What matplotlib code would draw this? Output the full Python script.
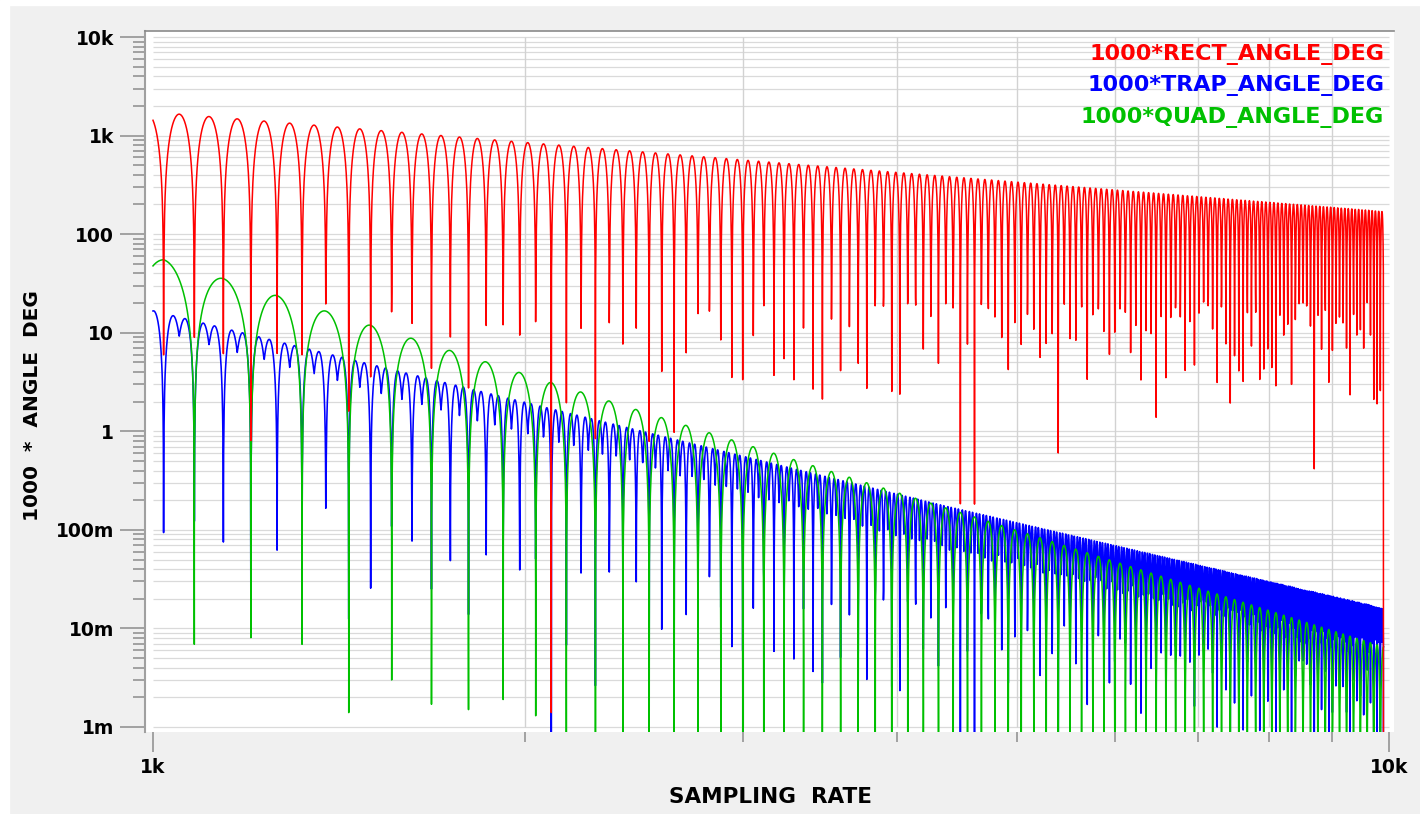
import numpy as np
import matplotlib
matplotlib.use("Agg")
import matplotlib.pyplot as plt
from matplotlib.patches import Rectangle
from matplotlib.ticker import FixedLocator, FixedFormatter, NullFormatter

# sampling-rate sweep (Hz): first and last simulated point, points per decade
SWEEP = (1000.0, 9900.0)
POINTS_PER_DECADE = 4900

# spacing (Hz) between the notches of each trace
RECT_PERIOD = 60.0
TRAP_PERIOD = 60.0
QUAD_PERIOD = 120.0

# lobe tops: sampling rate -> 1000 * angle (deg)
RECT_TOP_RATE = [1050, 1110, 2007, 4335, 9900]
RECT_TOP = [1650, 1560, 850, 390, 170]
TRAP_TOP_RATE = [1000, 1772, 4335, 9900]
TRAP_TOP = [16.0, 2.8, 0.178, 0.016]
QUAD_TOP_RATE = [1020, 1856, 9900]
QUAD_TOP = [55.0, 5.1, 0.0065]

# trap trace: level of the dip between its two humps, relative to the hump tops
TRAP_DIP_RATE = [1000, 1800, 4000, 9900]
TRAP_DIP = [0.68, 0.5, 0.38, 0.27]

# depth of the first quad notches (1080, 1200, ... Hz); the rest run off the axis
QUAD_NOTCH = [0.0069, 0.0113, 0.0069, 0.0014, 0.003, 0.0017, 0.0015, 0.0019, 0.0013]
QUAD_NOTCH_FLOOR = 1e-4

SERIES_LABELS = ["1000*RECT_ANGLE_DEG", "1000*TRAP_ANGLE_DEG", "1000*QUAD_ANGLE_DEG"]
SERIES_COLORS = ["#ff0000", "#0000ff", "#00c000"]

Y_TICKS = [1e-3, 1e-2, 1e-1, 1, 10, 100, 1e3, 1e4]
Y_TICK_LABELS = ["1m", "10m", "100m", "1", "10", "100", "1k", "10k"]
X_TICKS = [1e3, 1e4]
X_TICK_LABELS = ["1k", "10k"]


def log_interp(rate, at_rate, values):
    return 10 ** np.interp(np.log10(rate), np.log10(at_rate), np.log10(values))


decades = np.log10(SWEEP[1]) - np.log10(SWEEP[0])
rate = np.logspace(np.log10(SWEEP[0]), np.log10(SWEEP[1]),
                   int(round(decades * POINTS_PER_DECADE)) + 1)

rect = log_interp(rate, RECT_TOP_RATE, RECT_TOP) * np.abs(np.sin(np.pi * rate / RECT_PERIOD))

# two humps per trap lobe with a shallower dip in the middle
phase = np.pi * rate / TRAP_PERIOD
dip = np.interp(np.log10(rate), np.log10(TRAP_DIP_RATE), TRAP_DIP)
d = dip / (1 + 0.293 * dip)
hump = d * np.abs(np.sin(phase)) + (1 - d) * np.abs(np.sin(2 * phase))
trap = log_interp(rate, TRAP_TOP_RATE, TRAP_TOP) * hump / (1 - 0.293 * d)

quad = log_interp(rate, QUAD_TOP_RATE, QUAD_TOP) * np.abs(np.sin(np.pi * rate / QUAD_PERIOD))
notch_rate = QUAD_PERIOD * np.arange(np.ceil(SWEEP[0] / QUAD_PERIOD),
                                     np.floor(SWEEP[1] / QUAD_PERIOD) + 1)
notch_depth = np.full(notch_rate.size, QUAD_NOTCH_FLOOR)
notch_depth[:len(QUAD_NOTCH)] = QUAD_NOTCH
quad_rate = np.concatenate([rate, notch_rate])
quad = np.concatenate([quad, notch_depth])
order = np.argsort(quad_rate)
quad_rate, quad = quad_rate[order], quad[order]

rect = np.maximum(rect, 1e-9)
trap = np.maximum(trap, 1e-9)

W, H = 1420, 814
fig = plt.figure(figsize=(W / 100, H / 100), dpi=100, facecolor="#f0f0f0")
fig.add_artist(Rectangle((0, 0), 9 / W, 1, transform=fig.transFigure,
                         color="white", zorder=-5))
fig.add_artist(Rectangle((0, 1 - 5 / H), 1, 5 / H, transform=fig.transFigure,
                         color="white", zorder=-5))

# plot box in pixels: left 145, right 1394, top 31, bottom 732
ax = fig.add_axes([145 / W, (H - 732) / H, 1249 / W, 701 / H])
ax.set_facecolor("white")
ax.set_xscale("log")
ax.set_yscale("log")
ax.set_xlim(10 ** (3 - 8 / 1236), 10 ** (4 + 5 / 1236))
ax.set_ylim(10 ** (-3 - 5 / 98.57), 10 ** (4 + 6 / 98.57))

grid_y = [k * 10.0 ** e for e in range(-3, 4) for k in range(1, 10)] + [1e4]
grid_x = [k * 1e3 for k in range(2, 10)]
ax.hlines(grid_y, 1e3, 1e4, colors="#dadada", lw=0.9, zorder=0.5)
ax.vlines(grid_x, 1e-3, 1e4, colors="#d2d2d2", lw=1.0, zorder=0.5)

ax.plot(rate, trap, color=SERIES_COLORS[1], lw=1.15, zorder=2)
ax.plot(quad_rate, quad, color=SERIES_COLORS[2], lw=1.1, zorder=3)
ax.plot(rate, rect, color=SERIES_COLORS[0], lw=1.1, zorder=4)

for side in ("right", "bottom"):
    ax.spines[side].set_visible(False)
ax.spines["left"].set_color("#a0a0a0")
ax.spines["left"].set_linewidth(1.5)
ax.spines["top"].set_color("#8a8a8a")
ax.spines["top"].set_linewidth(1.2)

ax.yaxis.set_major_locator(FixedLocator(Y_TICKS))
ax.yaxis.set_major_formatter(FixedFormatter(Y_TICK_LABELS))
ax.yaxis.set_minor_locator(FixedLocator([k * 10.0 ** e for e in range(-3, 4) for k in range(2, 10)]))
ax.yaxis.set_minor_formatter(NullFormatter())
ax.xaxis.set_major_locator(FixedLocator(X_TICKS))
ax.xaxis.set_major_formatter(FixedFormatter(X_TICK_LABELS))
ax.xaxis.set_minor_locator(FixedLocator(grid_x))
ax.xaxis.set_minor_formatter(NullFormatter())

ax.tick_params(axis="y", which="major", length=18, width=1.1, color="#8c8c8c", pad=4.3)
ax.tick_params(axis="y", which="minor", length=8.6, width=1.1, color="#8c8c8c")
ax.tick_params(axis="x", which="major", length=14.4, width=1.1, color="#8c8c8c", pad=4.3)
ax.tick_params(axis="x", which="minor", length=7.2, width=1.1, color="#8c8c8c")
for lab in ax.get_xticklabels() + ax.get_yticklabels():
    lab.set_fontfamily("DejaVu Sans")
    lab.set_fontweight("bold")
    lab.set_fontsize(13.5)

fig.text(770 / W, 1 - 797 / H, "SAMPLING  RATE", ha="center", va="center",
         family="DejaVu Sans", weight="bold", size=15.5)
fig.text(33 / W, 1 - 406 / H, "1000  *  ANGLE  DEG", ha="center", va="center",
         rotation=90, family="DejaVu Sans", weight="bold", size=14.5)

for label, color, base in zip(SERIES_LABELS, SERIES_COLORS, [60, 91, 123]):
    fig.text(1384 / W, 1 - base / H, label, ha="right", va="baseline",
             color=color, family="DejaVu Sans", weight="bold", size=16)

fig.savefig("out.png", dpi=100, facecolor=fig.get_facecolor())
